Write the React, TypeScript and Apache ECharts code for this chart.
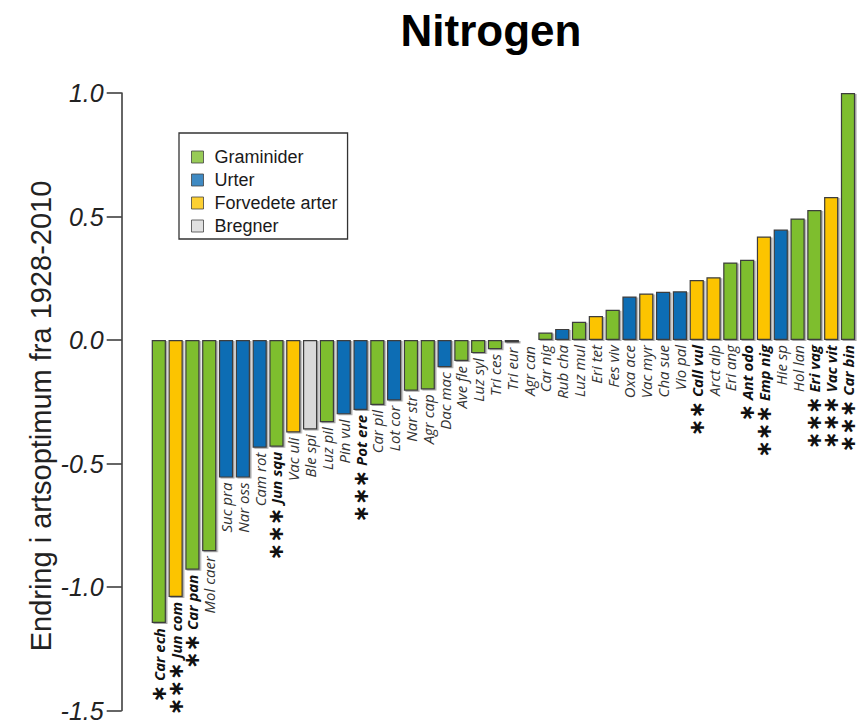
import React, { useEffect, useRef } from 'react';
import * as echarts from 'echarts';

const categories = [
  'Car ech', 'Jun com', 'Car pan', 'Mol caer', 'Suc pra', 'Nar oss', 'Cam rot', 'Jun squ',
  'Vac uli', 'Ble spi', 'Luz pil', 'Pin vul', 'Pot ere', 'Car pil', 'Lot cor', 'Nar str',
  'Agr cap', 'Dac mac', 'Ave fle', 'Luz syl', 'Tri ces', 'Tri eur', 'Agr can', 'Car nig',
  'Rub cha', 'Luz mul', 'Eri tet', 'Fes viv', 'Oxa ace', 'Vac myr', 'Cha sue', 'Vio pal',
  'Call vul', 'Arct alp', 'Eri ang', 'Ant odo', 'Emp nig', 'Hie sp', 'Hol lan', 'Eri vag',
  'Vac vit', 'Car bin',
];

const values = [
  -1.146, -1.04, -0.93, -0.855, -0.557, -0.557, -0.436, -0.432,
  -0.374, -0.362, -0.333, -0.301, -0.283, -0.263, -0.245, -0.205,
  -0.2, -0.11, -0.085, -0.053, -0.037, -0.01, -0.004, 0.03,
  0.045, 0.074, 0.097, 0.122, 0.176, 0.188, 0.195, 0.197,
  0.243, 0.254, 0.314, 0.325, 0.419, 0.447, 0.492, 0.526,
  0.579, 1.0,
];

// 0 = Graminider, 1 = Urter, 2 = Forvedete arter, 3 = Bregner
const groups = [
  0, 2, 0, 0, 1, 1, 1, 0,
  2, 3, 0, 1, 1, 0, 1, 0,
  0, 1, 0, 0, 0, 1, 0, 0,
  1, 0, 2, 0, 1, 2, 1, 1,
  2, 2, 0, 0, 2, 1, 0, 0,
  2, 0,
];

const stars = [
  '*', '***', '**', '', '', '', '', '***',
  '', '', '', '', '***', '', '', '',
  '', '', '', '', '', '', '', '',
  '', '', '', '', '', '', '', '',
  '**', '', '', '*', '***', '', '', '***',
  '***', '***',
];

const groupNames = ['Graminider', 'Urter', 'Forvedete arter', 'Bregner'];
const groupColors = ['#7EBE2D', '#0F6DB4', '#FCC400', '#D9D9D9'];

const yMin = -1.5;
const yMax = 1.0;
const yStep = 0.5;

const titleText = 'Nitrogen';
const yName = 'Endring i artsoptimum fra 1928-2010';

export default function App() {
  const ref = useRef<HTMLDivElement>(null);

  useEffect(() => {
    const chart = echarts.init(ref.current as HTMLDivElement, null, { renderer: 'svg' });

    const labelFont = 'Open Sans';

    const option: any = {
      animation: false,
      backgroundColor: '#ffffff',
      grid: { left: 150.4, right: 0.6, top: 93, bottom: 13.5, containLabel: false },
      xAxis: {
        type: 'category',
        data: categories,
        axisLine: { show: false },
        axisTick: { show: false },
        axisLabel: { show: false },
        splitLine: { show: false },
      },
      yAxis: {
        type: 'value',
        min: yMin,
        max: yMax,
        interval: yStep,
        offset: 28.7,
        axisLine: { show: true, lineStyle: { color: '#333', width: 1.5 } },
        axisTick: { show: true, length: 15, lineStyle: { color: '#333', width: 1.5 } },
        axisLabel: {
          margin: 18,
          fontFamily: 'Liberation Sans',
          fontStyle: 'italic',
          fontSize: 25,
          color: '#222',
          formatter: (v: number) => v.toFixed(1),
        },
        splitLine: { show: false },
      },
      legend: {
        orient: 'vertical',
        left: 179,
        top: 133,
        padding: [15, 10, 4, 12],
        itemWidth: 12,
        itemHeight: 12,
        itemGap: 5,
        borderColor: '#333',
        borderWidth: 1.3,
        selectedMode: false,
        itemStyle: { borderColor: '#444', borderWidth: 1 },
        textStyle: {
          fontFamily: 'Liberation Sans',
          fontSize: 18,
          color: '#1a1a1a',
          lineHeight: 18,
          padding: [0, 0, 0, 6],
        },
        data: groupNames.map((n) => ({ name: n, icon: 'rect' })),
      },
      graphic: [
        {
          type: 'text',
          x: 491,
          y: 30,
          style: {
            text: titleText,
            fontFamily: 'Liberation Sans',
            fontWeight: 'bold',
            fontSize: 44,
            fill: '#000',
            align: 'center',
            verticalAlign: 'middle',
          },
        },
        {
          type: 'text',
          x: 41,
          y: 416,
          rotation: Math.PI / 2,
          style: {
            text: yName,
            fontFamily: 'Liberation Sans',
            fontSize: 29,
            fill: '#222',
            align: 'center',
            verticalAlign: 'middle',
          },
        },
      ],
      series: [
        {
          type: 'bar',
          name: 'values',
          barWidth: '84.5%',
          data: values.map((v, i) => ({
            value: v,
            itemStyle: { color: groupColors[groups[i]] },
          })),
          itemStyle: {
            borderColor: '#3c3c3c',
            borderWidth: 1.2,
            shadowColor: 'rgba(0,0,0,0.35)',
            shadowOffsetX: 1.5,
            shadowOffsetY: 1,
            shadowBlur: 0,
          },
          silent: true,
        },
        ...groupNames.map((n, gi) => ({
          type: 'scatter',
          name: n,
          data: [],
          itemStyle: { color: groupColors[gi], borderColor: '#444', borderWidth: 1 },
        })),
        {
          type: 'custom',
          name: 'labels',
          silent: true,
          z: 5,
          data: values.map((v, i) => [i, v]),
          renderItem: (params: any, api: any) => {
            const i = params.dataIndex;
            const v = api.value(1);
            const p = api.coord([i, Math.min(v, 0)]);
            const s = stars[i];
            const name = categories[i];
            const text = s
              ? `{st|${s.replace(/\*/g, '\u2217')}} {b|${name}}`
              : `{n|${name}}`;
            return {
              type: 'text',
              x: p[0],
              y: p[1] + 5,
              rotation: Math.PI / 2,
              style: {
                text,
                align: 'right',
                verticalAlign: 'middle',
                fontSize: 15,
                lineHeight: 12,
                fontFamily: labelFont,
                rich: {
                  n: { fontFamily: labelFont, fontStyle: 'italic', fontSize: 15, lineHeight: 12, fill: '#333' },
                  b: { fontFamily: labelFont, fontStyle: 'italic', fontWeight: 'bold', fontSize: 15, lineHeight: 12, fill: '#111' },
                  st: { fontFamily: 'DejaVu Sans', fontWeight: 'bold', fontSize: 21, lineHeight: 12, fill: '#111' },
                },
              },
            };
          },
        },
      ],
    };

    chart.setOption(option);
    return () => chart.dispose();
  }, []);

  return (
    <div
      ref={ref}
      style={{ position: 'absolute', left: 0, top: 0, width: 857, height: 724 }}
    />
  );
}
